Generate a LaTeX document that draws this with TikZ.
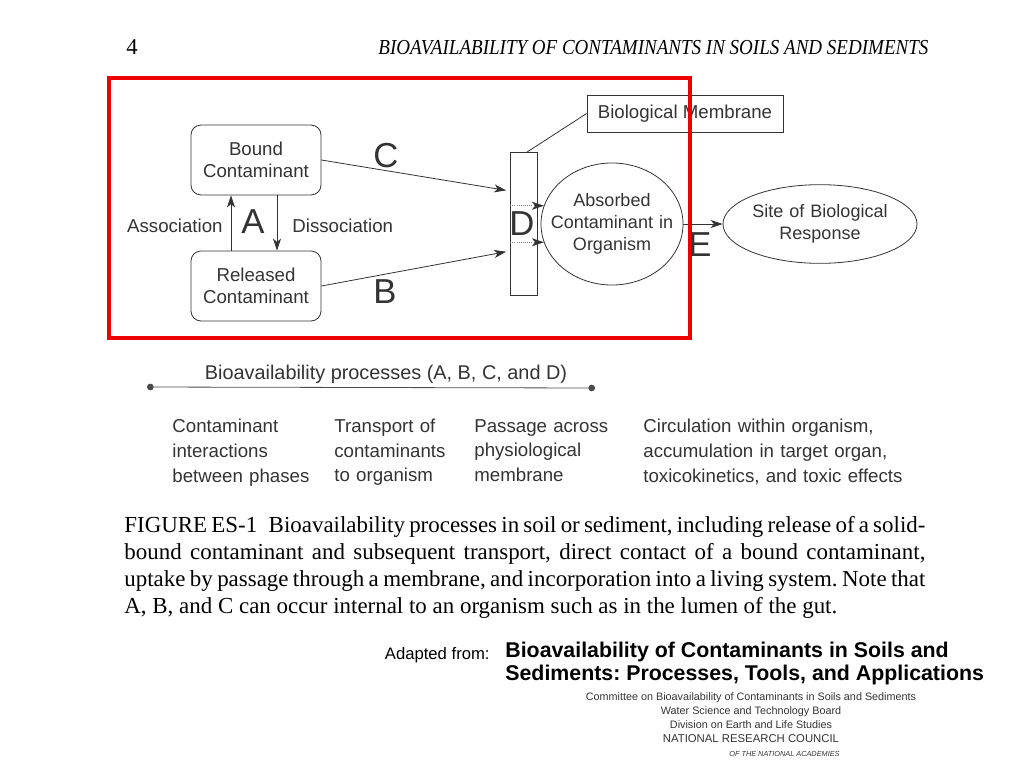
\documentclass[tikz,border=0pt]{standalone}
\usepackage{fontspec}
\setmainfont{Liberation Serif}
\setsansfont{Liberation Sans}
\usepackage{graphicx}
\usetikzlibrary{shapes.geometric,arrows.meta,calc,positioning}
\definecolor{framered}{rgb}{0.93,0,0}
\definecolor{inkgray}{gray}{0.2}

\tikzset{
  cbox/.style={draw=inkgray, rounded corners=7.5pt, minimum width=97.5pt, minimum height=52.5pt, text width=90pt, align=center, inner sep=2pt, text=inkgray, font=\sffamily\fontsize{14}{16.5}\selectfont},
  oval/.style={draw=inkgray, ellipse, inner sep=0pt},
  ovaltext/.style={text width=100pt, align=center, text=inkgray, font=\sffamily\fontsize{13.5}{16.5}\selectfont},
  arr/.style={draw=inkgray, -{Stealth[length=9pt,width=6pt,inset=2.5pt]}},
  dotarr/.style={draw=gray, densely dotted, -{Stealth[length=9pt,width=6pt,inset=2.5pt,inkgray]}},
  bigletter/.style={inner sep=0pt, text=inkgray, font=\sffamily\fontsize{26}{26}\selectfont},
  sidelabel/.style={inner sep=0pt, text=inkgray},
  coltext/.style={align=left, anchor=north west, inner sep=0pt, text width=200pt, text=inkgray},
  capline/.style={anchor=base west, inner sep=0pt, font=\rmfamily\fontsize{17.2}{20}\selectfont},
}

\begin{document}
\frenchspacing
\begin{tikzpicture}[x=0.75pt,y=-0.75pt,line width=0.6pt,font=\sffamily\fontsize{14}{18.4}\selectfont]
  \useasboundingbox (0,0) rectangle (1024,768);
  % running head
  \node[anchor=base west, inner sep=0pt, font=\rmfamily\fontsize{17}{17}\selectfont] (pagenum) at (126,54) {4};
  \node[anchor=base west, inner sep=0pt, font=\rmfamily\itshape\fontsize{16}{16}\selectfont] (runhead) at (378,54)
    {\resizebox{412.5pt}{\height}{BIOAVAILABILITY OF CONTAMINANTS IN SOILS AND SEDIMENTS}};

  % contaminant states
  \node[cbox] (bound) at (256,160) {Bound\\Contaminant};
  \node[cbox] (released) at (256,286) {Released\\Contaminant};
  \draw[arr] ($(released.north)+(-25,0)$) -- ($(bound.south)+(-25,0)$);
  \draw[arr] ($(bound.south)+(21,0)$) -- ($(released.north)+(21,0)$);
  \node[sidelabel, anchor=east] (assoc) at (223,226) {Association};
  \node[sidelabel, anchor=west] (dissoc) at (292,226) {Dissociation};
  \node[bigletter] (lettA) at (253,222) {A};

  % membrane and organism
  \node[draw=inkgray, minimum width=20.25pt, minimum height=107.25pt, inner sep=0pt] (membrane) at (524,224) {};
  \node[draw=inkgray, minimum width=147pt, minimum height=27.75pt, inner sep=0pt, text=inkgray] (biomem) at (685,113.5) {Biological Membrane};
  \draw[inkgray] (biomem.west) -- ($(membrane.north)+(3,0)$);
  \node[oval, minimum width=106.5pt, minimum height=91.5pt,
        label={[ovaltext]center:Absorbed\\Contaminant in\\Organism}] (absorbed) at (612,224) {};
  \node[oval, minimum width=145.5pt, minimum height=59pt,
        label={[ovaltext, text width=130pt]center:Site of Biological\\Response}] (site) at (820,224) {};

  % transport paths
  \draw[arr, shorten >=3pt] (bound.east) -- ($(membrane.west)+(0,-33)$);
  \draw[arr, shorten >=3pt] (released.east) -- ($(membrane.west)+(0,27)$);
  \node[bigletter] (lettC) at (386,156) {C};
  \node[bigletter] (lettB) at (385,292) {B};
  \draw[dotarr] (membrane.west |- absorbed.165) -- (absorbed.165);
  \draw[dotarr] (membrane.west |- absorbed.195) -- (absorbed.195);
  \node[bigletter] (lettD) at (522,224) {D};
  \draw[arr] (absorbed.east) -- (site.west);
  \node[bigletter] (lettE) at (700,245) {E};

  % process scale
  \coordinate (pstart) at (147,387);
  \coordinate (pend) at (595,388);
  \draw[gray!60!black, {Circle[length=5pt]}-{Circle[length=5pt]}] (pstart) -- (pend);
  \node[text=inkgray, font=\sffamily\fontsize{14.9}{18}\selectfont] (proclabel) at (386,374) {Bioavailability processes (A, B, C, and D)};
  \node[coltext] (colA) at (172,419) {Contaminant\\interactions\\between phases};
  \node[coltext] (colB) at (334,419) {Transport of\\contaminants\\to organism};
  \node[coltext] (colC) at (474,419) {Passage across\\physiological\\membrane};
  \node[coltext] (colD) at (643,419) {Circulation within organism,\\accumulation in target organ,\\toxicokinetics, and toxic effects};

  % caption
  \node[capline] (cap1) at (124,532) {\makebox[600.75pt][s]{FIGURE ES-1\enspace Bioavailability processes in soil or sediment, including release of a solid-}};
  \node[capline] (cap2) at (124,559) {\makebox[600.75pt][s]{bound contaminant and subsequent transport, direct contact of a bound contaminant,}};
  \node[capline] (cap3) at (124,586) {\makebox[600.75pt][s]{uptake by passage through a membrane, and incorporation into a living system. Note that}};
  \node[capline] (cap4) at (124,613) {A, B, and C can occur internal to an organism such as in the lumen of the gut.};

  % source
  \node[anchor=base east, inner sep=0pt, font=\sffamily\fontsize{12.5}{15}\selectfont] (adapted) at (490,659) {Adapted from:};
  \node[anchor=north west, align=left, inner sep=0pt, font=\sffamily\bfseries\fontsize{16}{17.25}\selectfont] (booktitle) at (505,642)
    {Bioavailability of Contaminants in Soils and\\Sediments: Processes, Tools, and Applications};
  \node[anchor=north, align=center, inner sep=0pt, text=inkgray, font=\sffamily\fontsize{8.1}{10.5}\selectfont] (committee) at (751,692)
    {Committee on Bioavailability of Contaminants in Soils and Sediments\\Water Science and Technology Board\\Division on Earth and Life Studies\\{\fontsize{8.5}{10.5}\selectfont NATIONAL RESEARCH COUNCIL}};
  \node[anchor=base east, inner sep=0pt, text=inkgray, font=\sffamily\itshape\fontsize{5.5}{6}\selectfont] (academies) at (840,756) {OF THE NATIONAL ACADEMIES};

  % highlight frame
  \draw[framered, line width=2.4pt] (109,78) rectangle (690,338);
\end{tikzpicture}
\end{document}
